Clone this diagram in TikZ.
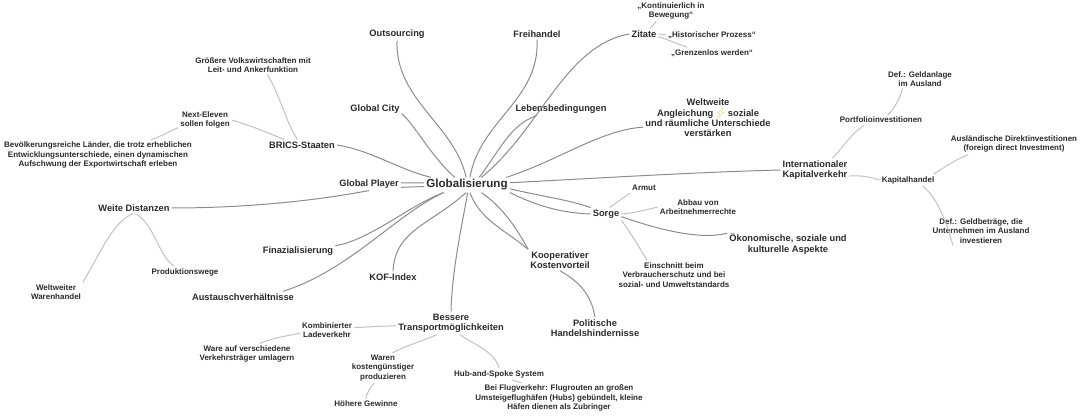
\documentclass[tikz,border=0pt]{standalone}
\usepackage{xcolor}
\usepackage{fontspec}
\setmainfont{Liberation Sans}
\newfontfamily\emojifont{Noto Emoji}
\definecolor{inkgrey}{HTML}{2A2A2A}
\definecolor{mainline}{HTML}{8C8C8C}
\definecolor{subline}{HTML}{C2C2C2}
\definecolor{boltyellow}{HTML}{F2C02E}
\usepackage{tikz}

\begin{document}
\begin{tikzpicture}[x=1pt, y=-1pt,
          hub/.style={text=inkgrey, inner sep=2pt, align=center, font=\fontsize{11.6}{13}\selectfont\bfseries},
          topic/.style={text=inkgrey, inner sep=2pt, align=center, font=\fontsize{9.3}{10.3}\selectfont\bfseries},
          detail/.style={text=inkgrey, inner sep=2pt, align=center, font=\fontsize{8}{9.2}\selectfont\bfseries},
          mainlink/.style={draw=mainline, line width=1pt},
          sublink/.style={draw=subline, line width=1pt}
        ]
        \useasboundingbox (0,0) rectangle (1080,417);

        % Mitte
        \node[hub] (global) at (467,185) {Globalisierung};

        % Themen rund um die Mitte
        \node[topic] (outsourcing) at (397,34) {Outsourcing};
        \node[topic] (freihandel) at (537,34) {Freihandel};
        \node[topic] (zitate) at (644,34) {Zitate};
        \node[topic] (leben) at (561,109) {Lebensbedingungen};
        \node[topic] (cityglobal) at (375,109) {Global City};
        \node[topic] (brics) at (302,145) {BRICS-Staaten};
        \node[topic] (player) at (369,184) {Global Player};
        \node[topic] (weite) at (134,208) {Weite Distanzen};
        \node[topic] (finanz) at (298,251) {Finazialisierung};
        \node[topic] (austausch) at (243,297) {Austauschverhältnisse};
        \node[topic] (kof) at (393,277) {KOF-Index};
        \node[topic] (transport) at (451,323) {Bessere\\Transportmöglichkeiten};
        \node[topic] (politik) at (595,328) {Politische\\Handelshindernisse};
        \node[topic] (koop) at (560,260) {Kooperativer\\Kostenvorteil};
        \node[topic] (sorge) at (606,214) {Sorge};
        \node[topic] (oekonomie) at (788,244) {Ökonomische, soziale und\\kulturelle Aspekte};
        \node[topic] (kapital) at (815,170) {Internationaler\\Kapitalverkehr};
        \node[topic] (angleich) at (708,118) {Weltweite\\Angleichung\,{\emojifont\fontsize{9}{10}\selectfont\textcolor{boltyellow}{⚡}}\,soziale\\und räumliche Unterschiede\\verstärken};

        % Details
        \node[detail] (kontinuierlich) at (671,11) {„Kontinuierlich in\\Bewegung“};
        \node[detail] (historisch) at (712,35) {„Historischer Prozess“};
        \node[detail] (grenzenlos) at (712,53) {„Grenzenlos werden“};
        \node[detail] (groesser) at (253,65) {Größere Volkswirtschaften mit\\Leit- und Ankerfunktion};
        \node[detail] (eleven) at (205,120) {Next-Eleven\\sollen folgen};
        \node[detail] (bevoelkerung) at (98,155) {Bevölkerungsreiche Länder, die trotz erheblichen\\Entwicklungsunterschiede, einen dynamischen\\Aufschwung der Exportwirtschaft erleben};
        \node[detail] (produktion) at (185,272) {Produktionswege};
        \node[detail] (warenhandel) at (56,292) {Weltweiter\\Warenhandel};
        \node[detail] (kombi) at (327,330) {Kombinierter\\Ladeverkehr};
        \node[detail] (umlagern) at (247,354) {Ware auf verschiedene\\Verkehrsträger umlagern};
        \node[detail] (waren) at (383,368) {Waren\\kostengünstiger\\produzieren};
        \node[detail] (gewinne) at (366,404) {Höhere Gewinne};
        \node[detail] (hubspoke) at (499,374) {Hub-and-Spoke System};
        \node[detail] (flug) at (559,398) {Bei Flugverkehr: Flugrouten an großen\\Umsteigeflughäfen (Hubs) gebündelt, kleine\\Häfen dienen als Zubringer};
        \node[detail] (armut) at (644,188) {Armut};
        \node[detail] (abbau) at (698,207) {Abbau von\\Arbeitnehmerrechte};
        \node[detail] (einschnitt) at (674,275) {Einschnitt beim\\Verbraucherschutz und bei\\sozial- und Umweltstandards};
        \node[detail] (portfolio) at (881,120) {Portfolioinvestitionen};
        \node[detail] (geldanlage) at (920,79) {Def.: Geldanlage\\im Ausland};
        \node[detail] (kaphandel) at (908,180) {Kapitalhandel};
        \node[detail] (direkt) at (1014,144) {Ausländische Direktinvestitionen\\(foreign direct Investment)};
        \node[detail] (geldbetrag) at (981,231) {Def.: Geldbeträge, die\\Unternehmen im Ausland\\investieren};

        % Verbindungen von der Mitte
        \draw[mainlink] (global.97) .. controls (455,125) and (395,100) .. (outsourcing.south);
        \draw[mainlink] (global.69) .. controls (480,120) and (540,100) .. (freihandel.south);
        \draw[mainlink] (global.32) .. controls (500,150) and (510,125) .. (leben.195);
        \draw[mainlink] (global.28) .. controls (540,130) and (565,45) .. (zitate.west);
        \draw[mainlink] (global.11) .. controls (560,160) and (600,130) .. (angleich.188);
        \draw[mainlink] (global.3) .. controls (600,178) and (700,172) .. (kapital.west);
        \draw[mainlink] (global.-5) .. controls (540,196) and (570,200) .. (sorge.north west);
        \draw[mainlink] (global.-10) .. controls (535,205) and (560,213) .. (sorge.west);
        \draw[mainlink] (global.-28) .. controls (500,205) and (515,225) .. (koop.north west);
        \draw[mainlink] (global.-69) .. controls (480,220) and (505,230) .. (koop.north west);
        \draw[mainlink] (global.-85) .. controls (462,225) and (452,270) .. (transport.north);
        \draw[mainlink] (global.-97) .. controls (430,225) and (395,230) .. (kof.north);
        \draw[mainlink] (global.198) .. controls (410,205) and (370,240) .. (finanz.8);
        \draw[mainlink] (global.198) .. controls (395,215) and (350,270) .. (austausch.8);
        \draw[mainlink] (global.177) -- (player.2);
        \draw[mainlink] (global.182) -- (player.-6);
        \draw[mainlink] (global.168) .. controls (400,170) and (370,150) .. (brics.east);
        \draw[mainlink] (global.148) .. controls (430,155) and (415,125) .. (cityglobal.-10);

        % weitere Aeste
        \draw[mainlink] (weite.east) .. controls (250,208) and (320,200) .. (player.south);
        \draw[mainlink] (koop.south) .. controls (585,285) and (592,300) .. (politik.north);
        \draw[mainlink] (sorge.-10) .. controls (660,230) and (700,240) .. (oekonomie.170);
        \draw[sublink] (brics.163) .. controls (262,130) and (248,125) .. (eleven.east);
        \draw[sublink] (brics.130) .. controls (285,120) and (280,95) .. (groesser.-34);
        \draw[sublink] (eleven.196) .. controls (168,132) and (162,136) .. (bevoelkerung.16);
        \draw[sublink] (weite.260) .. controls (112,222) and (98,258) .. (warenhandel.20);
        \draw[sublink] (weite.-75) .. controls (155,225) and (158,255) .. (produktion.152);
        \draw[sublink] (transport.183) .. controls (380,326) and (370,327) .. (kombi.5);
        \draw[sublink] (kombi.187) .. controls (285,336) and (270,339) .. (umlagern.40);
        \draw[sublink] (transport.220) .. controls (425,340) and (405,346) .. (waren.58);
        \draw[sublink] (waren.240) .. controls (370,388) and (367,392) .. (gewinne.north);
        \draw[sublink] (transport.-53) .. controls (475,345) and (495,352) .. (hubspoke.north);
        \draw[sublink] (hubspoke.-25) -- (flug.158);
        \draw[sublink] (zitate.41) -- (kontinuierlich.215);
        \draw[sublink] (zitate.east) -- (historisch.west);
        \draw[sublink] (zitate.-10) -- (grenzenlos.167);
        \draw[sublink] (sorge.60) -- (armut.south west);
        \draw[sublink] (sorge.east) .. controls (635,213) and (645,210) .. (abbau.west);
        \draw[sublink] (sorge.south east) .. controls (630,232) and (640,248) .. (einschnitt.152);
        \draw[sublink] (kapital.34) .. controls (845,145) and (850,135) .. (portfolio.197);
        \draw[sublink] (portfolio.37) .. controls (895,108) and (900,98) .. (geldanlage.209);
        \draw[sublink] (kapital.-10) .. controls (860,175) and (870,177) .. (kaphandel.west);
        \draw[sublink] (kaphandel.13) .. controls (945,167) and (955,160) .. (direkt.193);
        \draw[sublink] (kaphandel.-22) .. controls (930,192) and (942,205) .. (geldbetrag.207);

        \end{tikzpicture}
\end{document}
